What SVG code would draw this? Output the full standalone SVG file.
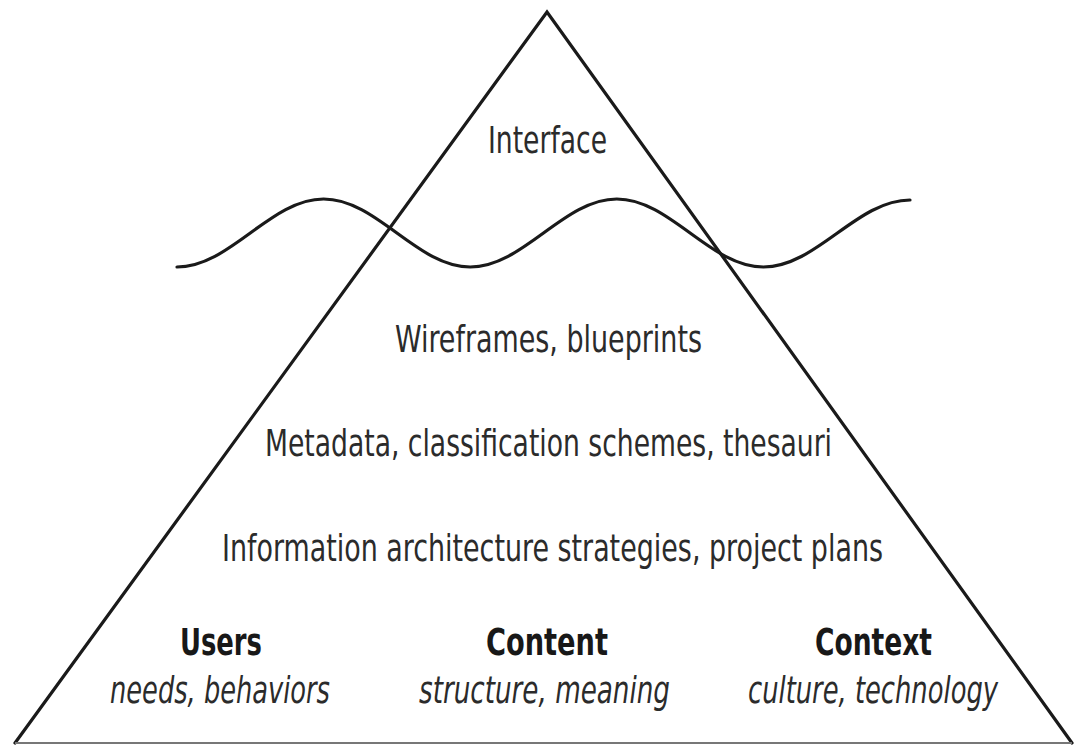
<svg xmlns="http://www.w3.org/2000/svg" width="1074" height="745" viewBox="0 0 1074 745">
<style>
.t{font-family:"Liberation Sans Narrow","DejaVu Sans Condensed","Liberation Sans",sans-serif;font-size:38px;fill:#2b2b2b;text-anchor:middle}
.b{font-weight:bold;fill:#181818}
.i{font-style:italic}
.ln{fill:none;stroke:#1a1a1a;stroke-width:3.2;stroke-linejoin:miter;stroke-linecap:round}
</style>
<rect width="1074" height="745" fill="#ffffff"/>
<g id="connectors">
<path class="ln" d="M15,743 L547,12 L1072,743"/>
<line x1="15" y1="743" x2="1072" y2="743" stroke="#777" stroke-width="2"/>
<path class="ln" stroke-width="3.6" d="M177,267 C230.3,267 270.3,199 323.6,199 S416.9,267 470.2,267 S563.5,199 616.8,199 S710.1,267 763.4,267 S856.7,200 910,200"/>
</g>
<g id="interface"><text class="t" x="547.5" y="153" textLength="119" lengthAdjust="spacingAndGlyphs">Interface</text></g>
<g id="wireframes"><text class="t" x="548.5" y="352" textLength="307" lengthAdjust="spacingAndGlyphs">Wireframes, blueprints</text></g>
<g id="metadata"><text class="t" x="548.5" y="456" textLength="567" lengthAdjust="spacingAndGlyphs">Metadata, classification schemes, thesauri</text></g>
<g id="strategies"><text class="t" x="552.5" y="561" textLength="661" lengthAdjust="spacingAndGlyphs">Information architecture strategies, project plans</text></g>
<g id="users">
<text class="t b" x="221" y="655" textLength="82" lengthAdjust="spacingAndGlyphs">Users</text>
<text class="t i" x="220" y="703" textLength="220" lengthAdjust="spacingAndGlyphs">needs, behaviors</text>
</g>
<g id="content">
<text class="t b" x="547" y="655" textLength="122" lengthAdjust="spacingAndGlyphs">Content</text>
<text class="t i" x="544.5" y="703" textLength="251" lengthAdjust="spacingAndGlyphs">structure, meaning</text>
</g>
<g id="context">
<text class="t b" x="873.5" y="655" textLength="117" lengthAdjust="spacingAndGlyphs">Context</text>
<text class="t i" x="873" y="703" textLength="250" lengthAdjust="spacingAndGlyphs">culture, technology</text>
</g>
</svg>
